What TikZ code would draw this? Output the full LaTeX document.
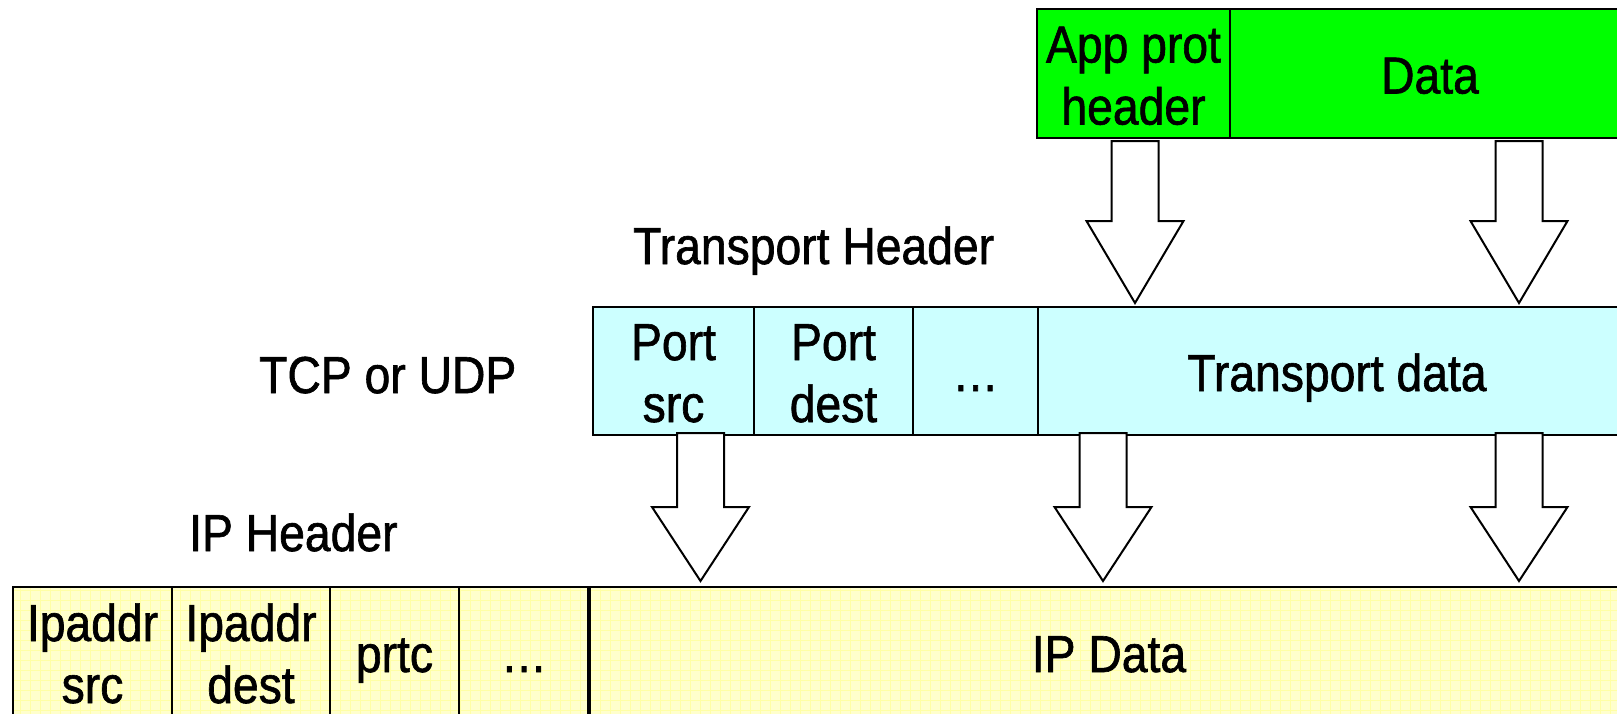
\documentclass[tikz,border=0pt]{standalone}
\usepackage{fontspec}
\setmainfont{Liberation Sans}[FakeStretch=0.89,FakeBold=1.2]
\usetikzlibrary{calc}

\definecolor{appgreen}{RGB}{0,255,0}
\definecolor{tcpcyan}{RGB}{204,255,255}
\definecolor{ipyellow}{RGB}{255,255,204}
\definecolor{ipgrid}{RGB}{255,255,165}

% strut: height 51pt, depth 11pt (one 62pt line)
\newcommand\cs{\rule[-11pt]{0pt}{62pt}}
\newcommand\cellfont{\fontsize{52}{62}\selectfont}

\tikzset{
  cell/.style={draw, line width=2pt, anchor=north west, inner sep=0pt,
    outer sep=0pt, align=center, font=\cellfont},
  tag/.style={anchor=base west, inner sep=0pt, font=\cellfont},
  arrowline/.style={draw, line width=2pt, fill=white, line join=miter},
  blockarrow/.style={
    to path={
      let \p1=(\tikztostart), \p2=(\tikztotarget) in
      (\x1-23.5pt,\y1) -- (\x1-23.5pt,\y2+#1) -- (\x1-48.5pt,\y2+#1)
      -- (\x2,\y2)
      -- (\x1+48.5pt,\y2+#1) -- (\x1+23.5pt,\y2+#1) -- (\x1+23.5pt,\y1) -- cycle
    }
  }
}

\begin{document}
\begin{tikzpicture}[x=1pt,y=-1pt]
\clip (0,0) rectangle (1617,713);

% application layer
\node[cell, fill=appgreen, minimum width=193pt, minimum height=129pt] (apph) at (1037,9) {\cs App prot\\\cs header};
\node[cell, fill=appgreen, minimum width=400pt, minimum height=129pt] (gdata) at (1230,9) {\cs Data};

% transport layer
\node[tag] (thead) at (633,264) {Transport Header};
\node[tag] (tcpudp) at (259,393) {TCP or UDP};
\node[cell, fill=tcpcyan, minimum width=161pt, minimum height=128pt] (psrc) at (593,307) {\cs Port\\\cs src};
\node[cell, fill=tcpcyan, minimum width=159pt, minimum height=128pt] (pdst) at (754,307) {\cs Port\\\cs dest};
\node[cell, fill=tcpcyan, minimum width=125pt, minimum height=128pt] (tdots) at (913,307) {\cs …};
\node[cell, fill=tcpcyan, minimum width=598pt, minimum height=128pt] (tdata) at (1038,307) {\cs Transport data};

% network layer
\node[tag] (iphead) at (189,551) {IP Header};
\fill[ipyellow] (13,587) rectangle (1629,717);
\begin{scope}
  \clip (13,587) rectangle (1629,717);
  \draw[ipgrid, line width=0.7pt] (13,587) grid[step=10pt] (1629,717);
\end{scope}
\node[cell, minimum width=159pt, minimum height=130pt] (ips) at (13,587) {\cs Ipaddr\\\cs src};
\node[cell, minimum width=158pt, minimum height=130pt] (ipd) at (172,587) {\cs Ipaddr\\\cs dest};
\node[cell, minimum width=129pt, minimum height=130pt] (prtc) at (330,587) {\cs prtc};
\node[cell, minimum width=130pt, minimum height=130pt] (ydots) at (459,587) {\cs …};
\node[cell, minimum width=1040pt, minimum height=130pt] (ipdata) at (589,587) {\cs IP Data};
\draw[line width=3.5pt] (ipdata.north west) -- (ipdata.south west);

% encapsulation arrows
\coordinate (g1s) at (1135,141);  \coordinate (g1t) at (1135,303);
\coordinate (g2s) at (1519,141);  \coordinate (g2t) at (1519,303);
\coordinate (c1s) at (700.5,433); \coordinate (c1t) at (700.5,581);
\coordinate (c2s) at (1103,433);  \coordinate (c2t) at (1103,581);
\coordinate (c3s) at (1519,433);  \coordinate (c3t) at (1519,581);

\draw[arrowline] (g1s) to[blockarrow=82pt] (g1t);
\draw[arrowline] (g2s) to[blockarrow=82pt] (g2t);
\draw[arrowline] (c1s) to[blockarrow=74pt] (c1t);
\draw[arrowline] (c2s) to[blockarrow=74pt] (c2t);
\draw[arrowline] (c3s) to[blockarrow=74pt] (c3t);
\end{tikzpicture}
\end{document}
